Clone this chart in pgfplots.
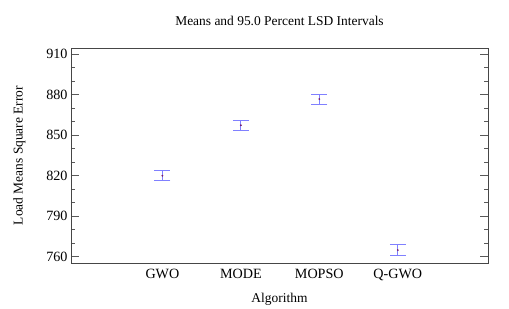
\documentclass[border=0pt]{standalone}
\usepackage{pgfplots}
\pgfplotsset{compat=1.18}
\usepackage{fontspec}
\setmainfont{Liberation Serif}
\definecolor{barblue}{RGB}{128,128,255}
\definecolor{meanpt}{RGB}{120,30,110}
\definecolor{axgray}{RGB}{70,70,70}
\begin{document}
\begin{tikzpicture}
\begin{axis}[
  at={(0,0)}, anchor=south west,
  scale only axis,
  width=417bp, height=215bp,
  xmin=-0.165, xmax=5.15,
  ymin=755.3, ymax=914.4,
  xtick={1,2,3,4},
  xticklabels={GWO,MODE,MOPSO,Q-GWO},
  ytick={760,790,820,850,880,910},
  minor y tick num=2,
  tick align=inside,
  ytick pos=both,
  xtick pos=bottom,
  major tick length=8bp,
  minor tick length=4bp,
  xtick style={draw=none},
  ytick style={draw=gray!70!black, line width=0.8pt},
  axis line style={axgray, line width=0.8pt},
  font=\fontsize{13.5}{15}\selectfont,
  ticklabel style={font=\fontsize{14.2}{15}\selectfont},
  /pgf/number format/assume math mode=true,
  yticklabel style={/pgf/number format/1000 sep={}},
  xticklabel style={yshift=-3bp},
  title={Means and 95.0 Percent LSD Intervals},
  title style={yshift=13bp},
  xlabel={Algorithm},
  ylabel={Load Means Square Error},
  xlabel style={yshift=-5bp},
  ylabel style={yshift=14bp},
]
\addplot[
  only marks, mark=*, mark size=0.7pt, color=meanpt,
  error bars/.cd, y dir=both, y explicit,
  error bar style={color=barblue, line width=1pt},
  error mark options={rotate=90, mark size=8bp, line width=1pt, color=barblue},
] coordinates {
  (1,819.9) +- (0,3.7)
  (2,857.2) +- (0,3.7)
  (3,876.6) +- (0,3.7)
  (4,764.9) +- (0,3.9)
};
\end{axis}
\path[use as bounding box] (-71bp,-46bp) rectangle (438bp,263bp);
\end{tikzpicture}
\end{document}
